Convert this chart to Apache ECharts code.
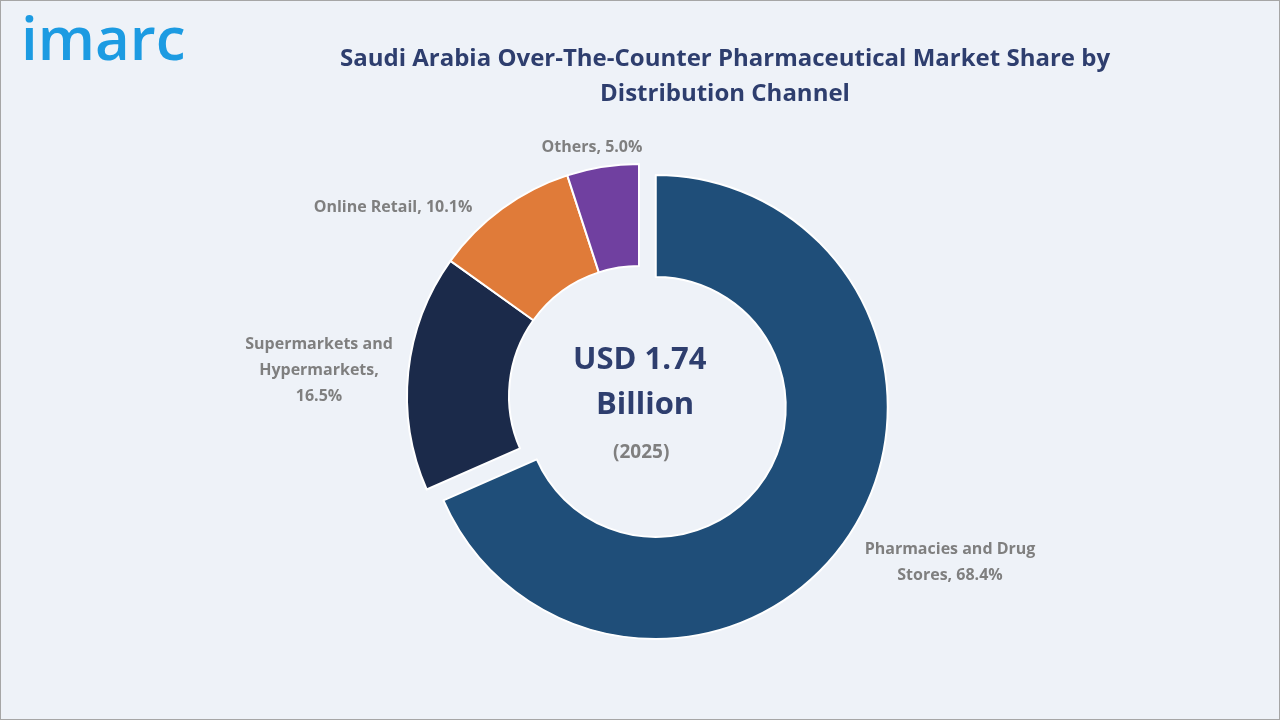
<!DOCTYPE html>
<html><head><meta charset="utf-8">
<script src="https://cdn.jsdelivr.net/npm/echarts@6/dist/echarts.min.js"></script>
<style>html,body{margin:0;padding:0;background:#eef2f8}#c{width:1278px;height:718px;border:1px solid #a6a6a6}</style>
</head><body><div id="c"></div>
<script>
const categories = ['Pharmacies and Drug\nStores', 'Supermarkets and\nHypermarkets,\n', 'Online Retail', 'Others'];
const shares = [68.4, 16.5, 10.1, 5.0];
const colors = ['#1f4e79', '#1b2a4a', '#e07b39', '#7040a0'];
const labelSep = [', ', '', ', ', ', '];
const labelPlace = [[949, 561], [318, 369], [392, 206], [591, 146]];
const labelText = i => categories[i] + labelSep[i] + shares[i].toFixed(1) + '%';
const chart = echarts.init(document.getElementById('c'));
chart.setOption({
  backgroundColor: '#eef2f8',
  title: {
    text: 'Saudi Arabia Over-The-Counter Pharmaceutical Market Share by\nDistribution Channel',
    left: 719, top: 36, textAlign: 'center',
    textStyle: {fontFamily: 'Open Sans', fontSize: 24, fontWeight: 'bold', color: '#2e3e6e', lineHeight: 35}
  },
  graphic: [
    {type: 'text', left: 20, top: 12, style: {text: 'imarc', font: '600 60px "Open Sans"', fill: '#1c9be2'}},
    {type: 'text', left: 572, top: 344, style: {text: 'USD 1.74', font: 'bold 31px "Open Sans"', fill: '#2e3e6e'}},
    {type: 'text', left: 595, top: 389, style: {text: 'Billion', font: 'bold 31px "Open Sans"', fill: '#2e3e6e'}},
    {type: 'text', left: 612, top: 442, style: {text: '(2025)', font: 'bold 19px "Open Sans"', fill: '#7f7f7f'}}
  ].concat(categories.map((c, i) => ({
    type: 'text', x: labelPlace[i][0], y: labelPlace[i][1],
    style: {text: labelText(i), fontFamily: 'Open Sans', fontWeight: 'bold', fontSize: 16, lineHeight: 26,
      fill: '#7f7f7f', align: 'center', verticalAlign: 'middle'}
  }))),
  series: [{
    type: 'pie',
    center: [638, 395],
    radius: [130, 232],
    startAngle: 90,
    clockwise: true,
    selectedMode: 'multiple',
    selectedOffset: 20,
    itemStyle: {borderColor: '#ffffff', borderWidth: 2},
    label: {show: false},
    labelLine: {show: false},
    data: categories.map((n, i) => ({name: n, value: shares[i], itemStyle: {color: colors[i]}, selected: i === 0}))
  }]
});
</script></body></html>
